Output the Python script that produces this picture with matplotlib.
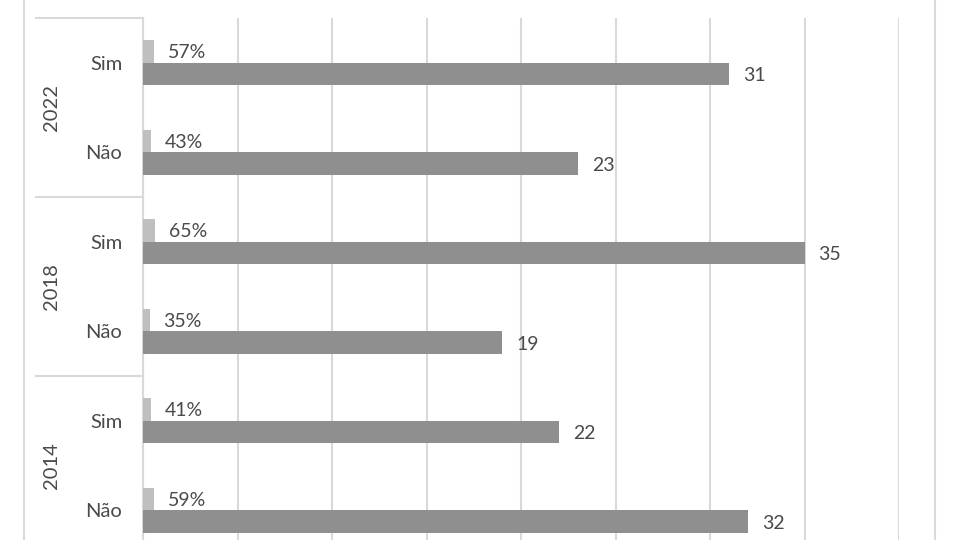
import matplotlib
matplotlib.use("Agg")
import matplotlib.pyplot as plt
import matplotlib.transforms as mtransforms
from matplotlib.lines import Line2D
import numpy as np

plt.rcParams['font.family'] = ['Lato', 'DejaVu Sans']

years = ["2022", "2018", "2014"]
answers = ["Sim", "Não", "Sim", "Não", "Sim", "Não"]
counts = [31, 23, 35, 19, 22, 32]
shares = [0.57, 0.43, 0.65, 0.35, 0.41, 0.59]
share_labels = ["57%", "43%", "65%", "35%", "41%", "59%"]

W, H = 960, 540
fig = plt.figure(figsize=(9.6, 5.4), dpi=100)
ax = fig.add_axes([143 / W, 1 - 555 / H, (899 - 143) / W, (555 - 18) / H])

text_color = "#4a4a4a"
grid_color = "#d9d9d9"
light = "#bfbfbf"
dark = "#8f8f8f"

y = np.arange(len(answers))
bh = 0.25
ax.barh(y - bh / 2, shares, height=bh, color=light, zorder=3)
ax.barh(y + bh / 2, counts, height=bh, color=dark, zorder=3)

ax.set_xlim(0, 40)
ax.set_ylim(len(answers) - 0.5, -0.5)
ax.set_xticks(np.arange(0, 41, 5))
ax.xaxis.grid(True, color=grid_color, linewidth=1.5, zorder=0)
ax.tick_params(axis='x', length=0, labelbottom=False)
for s in ["top", "right", "bottom"]:
    ax.spines[s].set_visible(False)
ax.spines["left"].set_color(grid_color)
ax.spines["left"].set_linewidth(1.5)

ax.set_yticks(y)
ax.set_yticklabels(answers, fontsize=14.5, color=text_color)
ax.tick_params(axis='y', length=0, pad=15)

off = 14 * 72 / 100  # points
dy = -2 * 72 / 100
for yi, s, lab in zip(y, shares, share_labels):
    ax.annotate(lab, (s, yi - bh / 2), xytext=(off, dy / 2), textcoords="offset points",
                va="center", ha="left", fontsize=14, color=text_color)
for yi, c in zip(y, counts):
    ax.annotate(str(c), (c, yi + bh / 2), xytext=(off, dy), textcoords="offset points",
                va="center", ha="left", fontsize=14, color=text_color)

# category group box lines and year labels
blend = mtransforms.blended_transform_factory(fig.transFigure, ax.transData)
for b in [-0.5, 1.5, 3.5, 5.5]:
    ax.add_line(Line2D([36 / W, 143 / W], [b, b], transform=blend, color=grid_color,
                       linewidth=1.5, clip_on=False))
for i, yr in enumerate(years):
    ax.text(52 / W, 2 * i + 0.5, yr, transform=blend, rotation=90, ha="center", va="center",
            fontsize=14.5, color=text_color)

# outer chart border
for xp in [24, 935]:
    fig.add_artist(Line2D([xp / W, xp / W], [0, 1], transform=fig.transFigure,
                          color=grid_color, linewidth=1.5))

fig.savefig("out.png", dpi=100)
